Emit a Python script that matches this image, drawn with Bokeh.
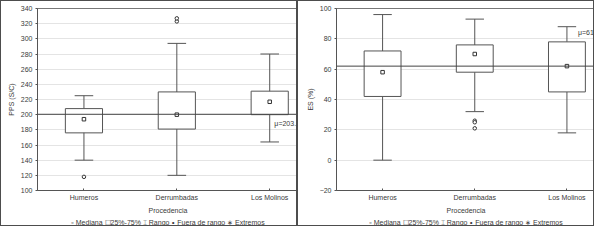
from bokeh.plotting import figure
from bokeh.models import Range1d, FixedTicker, Span, Title
from bokeh.layouts import row
from bokeh.embed import file_html
from bokeh.resources import INLINE
from bokeh.core.properties import value

categories = ["Humeros", "Derrumbadas", "Los Molinos"]

# Panel 1: PPS (S/C)
pps_low = [140, 120, 164]
pps_q1 = [176, 181, 200]
pps_median = [194, 200, 217]
pps_q3 = [208, 230, 231]
pps_high = [225, 294, 280]
pps_out_cat = ["Humeros", "Derrumbadas", "Derrumbadas"]
pps_out_val = [118, 323, 327]
pps_mean = 200.5
pps_mean_label = "μ=203."

# Panel 2: ES (%)
es_low = [0, 32, 18]
es_q1 = [42, 58, 45]
es_median = [58, 70, 62]
es_q3 = [72, 76, 78]
es_high = [96, 93, 88]
es_out_cat = ["Derrumbadas", "Derrumbadas", "Derrumbadas"]
es_out_val = [26, 25, 21]
es_mean = 62
es_mean_label = "μ=61"

legend_text = "▫ Mediana ☐25%-75% ⌶ Rango ∘ Fuera de rango ∗ Extremos"

FONT = "Liberation Sans"
TXT = "#3a3a3a"
LINE = "#555555"
W, H = 297, 226


def make_panel(low, q1, med, q3, high, out_cat, out_val, mean, mean_label,
               label_x, label_y, ylabel, y0, y1, ystep, left_border):
    pos = [i + 0.5 for i in range(len(categories))]
    opos = [categories.index(c) + 0.5 for c in out_cat]
    p = figure(width=W, height=H, x_range=Range1d(0, 2.81), y_range=Range1d(y0, y1),
               output_backend="svg", toolbar_location=None,
               min_border_left=left_border, min_border_right=0,
               min_border_top=7, min_border_bottom=37)
    p.styles = {"border": "1px solid #4d4d4d"}
    p.outline_line_color = "#777777"
    p.xgrid.visible = False
    p.ygrid.grid_line_color = "#e4e4e4"
    p.yaxis.ticker = FixedTicker(ticks=list(range(y0, y1 + 1, ystep)))
    p.xaxis.ticker = FixedTicker(ticks=pos)
    p.xaxis.major_label_overrides = {x: c for x, c in zip(pos, categories)}
    p.xaxis.axis_label = "Procedencia"
    p.yaxis.axis_label = ylabel
    for ax in (p.xaxis[0], p.yaxis[0]):
        ax.axis_line_color = LINE
        ax.major_tick_line_color = LINE
        ax.minor_tick_line_color = None
        ax.major_label_text_font_size = "7px"
        ax.major_label_text_font = FONT
        ax.major_label_text_color = TXT
        ax.axis_label_text_font_size = "7px"
        ax.axis_label_text_font = FONT
        ax.axis_label_text_color = TXT
        ax.axis_label_text_font_style = "normal"
        ax.major_label_standoff = 3
        ax.axis_label_standoff = 3
    p.xaxis.major_tick_in = 2
    p.xaxis.major_tick_out = 0
    p.yaxis.major_tick_in = 0
    p.yaxis.major_tick_out = 2

    # whiskers (stems + caps)
    p.segment(x0=pos, y0=low, x1=pos, y1=high, line_color=LINE, line_width=1)
    p.segment(x0=[x - 0.1 for x in pos], y0=high, x1=[x + 0.1 for x in pos], y1=high,
              line_color=LINE, line_width=1)
    p.segment(x0=[x - 0.1 for x in pos], y0=low, x1=[x + 0.1 for x in pos], y1=low,
              line_color=LINE, line_width=1)
    p.vbar(x=pos, width=0.4, bottom=q1, top=q3, fill_color="white",
           line_color=LINE, line_width=1)
    p.scatter(x=pos, y=med, marker="square", size=3.5, fill_color="white",
              line_color="#333333", line_width=1)
    p.scatter(x=opos, y=out_val, marker="circle", size=3.5, fill_color="white",
              line_color="#333333", line_width=1)

    p.add_layout(Span(location=mean, dimension="width", line_color="#444444", line_width=1))
    p.text(x=[label_x], y=[label_y], text=[mean_label], text_font_size="7px",
           text_font=value(FONT), text_color=TXT, text_baseline="middle")

    p.add_layout(Title(text=legend_text, align="center", text_font_size="7px",
                       text_font=FONT, text_color=TXT, text_font_style="normal",
                       standoff=1, offset=0), "below")
    return p


p1 = make_panel(pps_low, pps_q1, pps_median, pps_q3, pps_high, pps_out_cat, pps_out_val,
                pps_mean, pps_mean_label, 2.55, 188, "PPS (S/C)", 100, 340, 20, 36)
p2 = make_panel(es_low, es_q1, es_median, es_q3, es_high, es_out_cat, es_out_val,
                es_mean, es_mean_label, 2.62, 84, "ES (%)", -20, 100, 20, 38)

layout = row(p1, p2, spacing=0)
open("out.html", "w").write(file_html(layout, INLINE))
